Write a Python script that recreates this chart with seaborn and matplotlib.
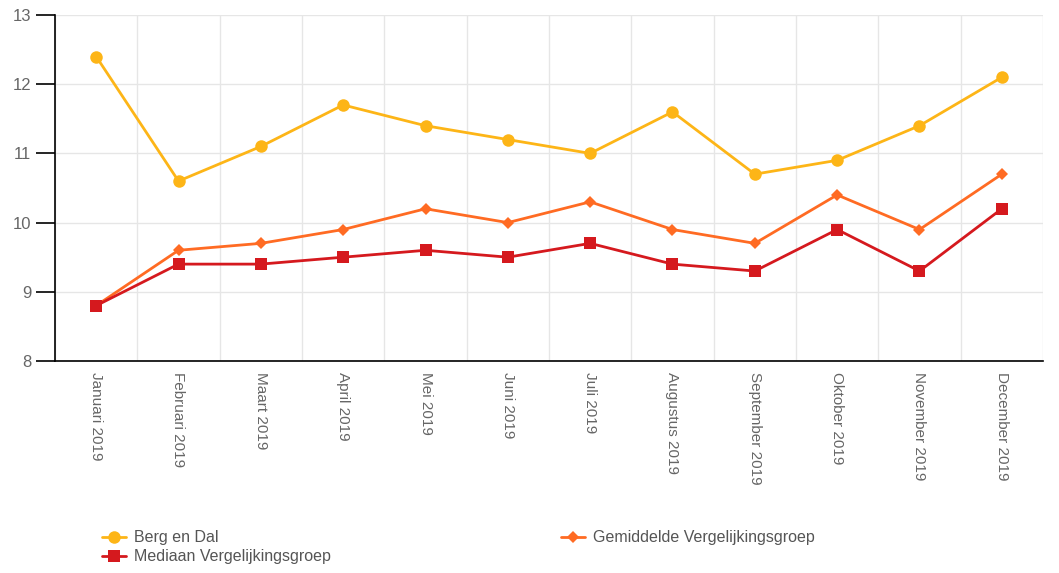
import matplotlib.pyplot as plt
import numpy as np
import pandas as pd
import seaborn as sns

# monthly values
months = ["Januari 2019", "Februari 2019", "Maart 2019", "April 2019", "Mei 2019", "Juni 2019",
          "Juli 2019", "Augustus 2019", "September 2019", "Oktober 2019", "November 2019", "December 2019"]
berg_en_dal = [12.4, 10.6, 11.1, 11.7, 11.4, 11.2, 11.0, 11.6, 10.7, 10.9, 11.4, 12.1]
gemiddelde = [8.8, 9.6, 9.7, 9.9, 10.2, 10.0, 10.3, 9.9, 9.7, 10.4, 9.9, 10.7]
mediaan = [8.8, 9.4, 9.4, 9.5, 9.6, 9.5, 9.7, 9.4, 9.3, 9.9, 9.3, 10.2]

series = ["Berg en Dal", "Mediaan Vergelijkingsgroep", "Gemiddelde Vergelijkingsgroep"]
colors = {"Berg en Dal": "#FDB517", "Gemiddelde Vergelijkingsgroep": "#FF6B23",
          "Mediaan Vergelijkingsgroep": "#D5191E"}
markers = {"Berg en Dal": "o", "Gemiddelde Vergelijkingsgroep": "D",
           "Mediaan Vergelijkingsgroep": "s"}
msizes = {"Berg en Dal": 9, "Gemiddelde Vergelijkingsgroep": 6, "Mediaan Vergelijkingsgroep": 9}

df = pd.DataFrame({"maand": months * 3,
                   "waarde": berg_en_dal + mediaan + gemiddelde,
                   "reeks": np.repeat(series, len(months))})
df["pos"] = list(range(len(months))) * 3

sns.set_style("white")
plt.rcParams["font.family"] = ["Liberation Sans", "DejaVu Sans"]

fig = plt.figure(figsize=(10.59, 5.73), dpi=100)
ax = fig.add_axes([55 / 1059, 1 - 361 / 573, (1043 - 55) / 1059, (361 - 15) / 573])

# draw order: yellow, orange, red on top
for name in ["Berg en Dal", "Gemiddelde Vergelijkingsgroep", "Mediaan Vergelijkingsgroep"]:
    sub = df[df["reeks"] == name]
    sns.lineplot(data=sub, x="pos", y="waarde", ax=ax, color=colors[name], lw=2,
                 marker=markers[name], markersize=msizes[name], markeredgewidth=0,
                 label=name, sort=False)

ax.set_xlim(-0.5, len(months) - 0.5)
ax.set_ylim(8, 13)
ax.set_yticks(range(8, 14))
ax.set_xticks(range(len(months)))
ax.set_xticklabels(months, rotation=270, fontsize=11, color="#666666")
ax.set_xticks(np.arange(-0.5, len(months), 1), minor=True)
ax.tick_params(axis="x", which="both", length=0, pad=8)
ax.tick_params(axis="y", left=True, length=14, width=1.2, color="black", labelsize=12,
               labelcolor="#666666", pad=3)
ax.grid(False)
ax.grid(True, axis="x", which="minor", color="#e6e6e6", lw=1)
ax.grid(True, axis="y", which="major", color="#e6e6e6", lw=1)
ax.set_xlabel("")
ax.set_ylabel("")
sns.despine(ax=ax)
ax.spines["left"].set_color("black")
ax.spines["bottom"].set_color("black")
ax.spines["left"].set_linewidth(1.2)
ax.spines["bottom"].set_linewidth(1.2)

handles, labels = ax.get_legend_handles_labels()
order = [labels.index("Berg en Dal"), labels.index("Mediaan Vergelijkingsgroep"),
         labels.index("Gemiddelde Vergelijkingsgroep")]
ax.legend([handles[i] for i in order], [labels[i] for i in order], ncol=2,
          loc="upper left", bbox_to_anchor=(88 / 1059, 1 - 516 / 573), bbox_transform=fig.transFigure,
          frameon=False, fontsize=11.5, handlelength=1.5, columnspacing=14.4, labelspacing=0.25,
          handletextpad=0.5, labelcolor="#555555")

plt.savefig("out.png", dpi=100)
plt.close()
